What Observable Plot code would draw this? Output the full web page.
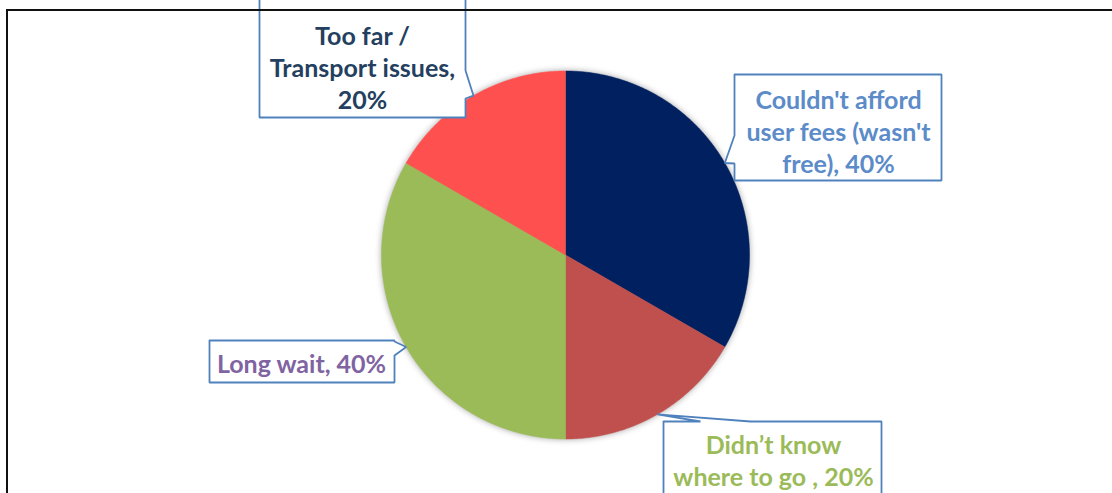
<!DOCTYPE html>
<html>
<head>
<meta charset="utf-8">
<script src="https://cdn.jsdelivr.net/npm/d3@7"></script>
<script src="https://cdn.jsdelivr.net/npm/@observablehq/plot@0.6"></script>
<style>
  html, body { margin: 0; padding: 0; background: #fff; overflow: hidden; }
  #wrap { position: relative; width: 1112px; height: 493px; }
  #frame { position: absolute; left: 6px; top: 9px; width: 1200px; height: 600px;
           border-left: 2.5px solid #111; border-top: 2.5px solid #111; pointer-events: none; }
</style>
</head>
<body>
<div id="wrap"><div id="chart"></div><div id="frame"></div></div>
<script>
// ---- data ----
const categories = ["Couldn't afford user fees (wasn't free)", "Didn’t know where to go", "Long wait", "Too far / Transport issues"];
const values = [40, 20, 40, 20];
const labels = ["Couldn't afford\nuser fees (wasn't\nfree), 40%", "Didn’t know\nwhere to go , 20%", "Long wait, 40%", "Too far /\nTransport issues,\n20%"];
const sliceColors = ["#002060", "#c0504d", "#9bbb59", "#ff5050"];
const labelColors = ["#5b8bc8", "#9bbb59", "#8064a2", "#243f60"];

// ---- layout (pixels) ----
const W = 1112, H = 493;
const cx = 565, cy = 254.5, R = 184;
const boxes = [
  {x0: 734, x1: 941, y0: 74, y1: 180, side: "left", b0: 135, b1: 163, tx: 838, ty: 130},
  {x0: 663, x1: 881, y0: 421, y1: 540, side: "top", b0: 700, b1: 750, tx: 773, ty: 459},
  {x0: 209, x1: 394, y0: 340, y1: 382, side: "right", b0: 341, b1: 355, tx: 301, ty: 362},
  {x0: 259, x1: 465, y0: -20, y1: 117, side: "right", b0: 70, b1: 98, tx: 362, ty: 66}
];

// ---- pie geometry from values ----
const total = d3.sum(values);
const pie = [];
const tips = [];
let acc = 0;
values.forEach((v, i) => {
  const a0 = acc / total * 2 * Math.PI;
  const a1 = (acc + v) / total * 2 * Math.PI;
  acc += v;
  pie.push({cat: categories[i], x: cx, y: cy});
  const n = Math.max(2, Math.ceil((a1 - a0) / (Math.PI / 360)));
  for (let k = 0; k <= n; k++) {
    const a = a0 + (a1 - a0) * k / n;
    pie.push({cat: categories[i], x: cx + R * Math.sin(a), y: cy - R * Math.cos(a)});
  }
  pie.push({cat: categories[i], x: cx, y: cy});
  const am = (a0 + a1) / 2;
  tips.push({x: cx + R * Math.sin(am), y: cy - R * Math.cos(am)});
});

// ---- callout outlines ----
const callouts = [];
boxes.forEach((b, i) => {
  const t = tips[i];
  let pts;
  if (b.side === "top") {
    pts = [[b.x0,b.y0],[b.b0,b.y0],[t.x,t.y],[b.b1,b.y0],[b.x1,b.y0],[b.x1,b.y1],[b.x0,b.y1],[b.x0,b.y0]];
  } else if (b.side === "right") {
    pts = [[b.x0,b.y0],[b.x1,b.y0],[b.x1,b.b0],[t.x,t.y],[b.x1,b.b1],[b.x1,b.y1],[b.x0,b.y1],[b.x0,b.y0]];
  } else {
    pts = [[b.x0,b.y0],[b.x1,b.y0],[b.x1,b.y1],[b.x0,b.y1],[b.x0,b.b1],[t.x,t.y],[b.x0,b.b0],[b.x0,b.y0]];
  }
  pts.forEach(([x, y]) => callouts.push({id: i, x, y}));
});

const textData = labels.map((l, i) => ({label: l, x: boxes[i].tx, y: boxes[i].ty, color: labelColors[i]}));

const chart = Plot.plot({
  width: W, height: H,
  margin: 0,
  x: {domain: [0, W], range: [0, W], axis: null},
  y: {domain: [0, H], range: [0, H], axis: null},
  color: {domain: categories, range: sliceColors, type: "ordinal"},
  style: {fontFamily: "Lato, 'Open Sans', sans-serif", background: "white", overflow: "visible"},
  marks: [
    Plot.line(pie, {x: "x", y: "y", z: "cat", fill: "cat", stroke: "cat", strokeWidth: 0.5, curve: "linear"}),
    Plot.line(callouts, {x: "x", y: "y", z: "id", fill: "white", stroke: "#4f81bd", strokeWidth: 1.8, curve: "linear", strokeLinejoin: "miter"}),
    Plot.text(textData, {x: "x", y: "y", text: "label", fill: "color", fontSize: 25, fontWeight: "bold", lineHeight: 1.28, textAnchor: "middle", lineAnchor: "middle"})
  ]
});
const g = chart.querySelector('g[aria-label="line"]');
if (g) g.style.filter = "drop-shadow(0px 0px 3px rgba(0,0,0,0.35))";
document.getElementById("chart").appendChild(chart);
</script>
</body>
</html>
